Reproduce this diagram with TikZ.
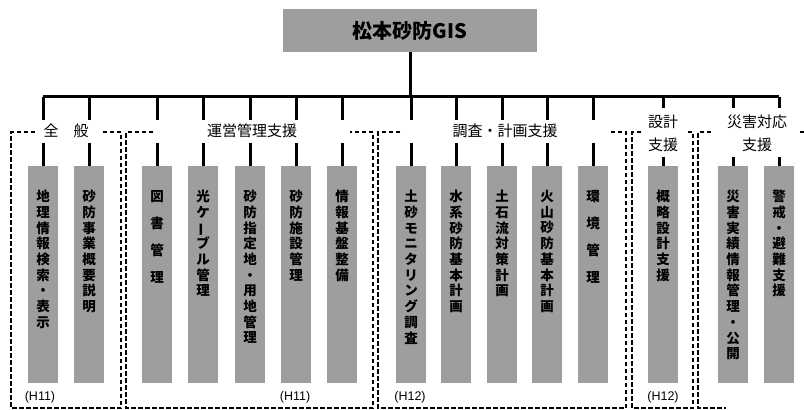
\documentclass[tikz,border=0pt]{standalone}
\usepackage{graphicx}
\usepackage{fontspec}
\newfontfamily\jp{Noto Sans CJK JP}
\newfontfamily\lat{Liberation Sans}
\newcommand{\vbar}{\rotatebox[origin=c]{90}{ー}}
\begin{document}
\begin{tikzpicture}[x=1pt,y=-1pt,
  box/.style={draw=none, fill=black!38, minimum width=30pt, minimum height=217pt, inner sep=0pt, anchor=north},
  topbox/.style={draw=none, fill=black!38, minimum width=254pt, minimum height=43pt, inner sep=0pt, font=\fontsize{20}{22}\jp\bfseries},
  vtext/.style={anchor=north, align=center, inner sep=0pt, font=\fontsize{13.5}{15.7}\jp\bfseries},
  vwide/.style={vtext, font=\fontsize{13.5}{27}\jp\bfseries},
  grp/.style={inner sep=0pt, align=center, font=\fontsize{15}{23}\jp},
  era/.style={inner sep=0pt, font=\fontsize{12.5}{13}\lat},
  conn/.style={line width=3pt},
  frame/.style={line width=1.4pt, dash pattern=on 4.5pt off 2.5pt}
]
\useasboundingbox (0,0) rectangle (804,410);

% top box
\node[topbox] (root) at (410,30.5) {松本砂防GIS};
\coordinate (barL) at (43,96.5);
\coordinate (barR) at (779,96.5);
\coordinate (barM) at (410,96.5);
\draw[conn] (root.south) -- (barM);
\draw[conn] (barL) -- (barR);

% columns
\foreach \i/\x in {1/43,2/89,3/157,4/203,5/250,6/296,7/342,8/411,9/456,10/502,11/547,12/593,13/663,14/733,15/779}{
  \coordinate (b\i) at (\x,96.5);
  \node[box] (box\i) at (\x,166) {};
}
\foreach \i in {1,...,12}{
  \draw[conn] (b\i) -- ++(0,23.5);
  \draw[conn] (box\i.north) -- ++(0,-23);
}
\foreach \i in {13,14,15}{
  \draw[conn] (b\i) -- ++(0,11.5);
  \draw[conn] (box\i.north) -- ++(0,-9);
}

% vertical texts
\node[vtext] (t1) at (43,190) {地\\理\\情\\報\\検\\索\\・\\表\\示};
\node[vtext] (t2) at (89,190) {砂\\防\\事\\業\\概\\要\\説\\明};
\node[vwide] (t3) at (157,190) {図\\書\\管\\理};
\node[vtext] (t4) at (203,190) {光\\ケ\\\vbar\\ブ\\ル\\管\\理};
\node[vtext] (t5) at (250,190) {砂\\防\\指\\定\\地\\・\\用\\地\\管\\理};
\node[vtext] (t6) at (296,190) {砂\\防\\施\\設\\管\\理};
\node[vtext] (t7) at (342,190) {情\\報\\基\\盤\\整\\備};
\node[vtext] (t8) at (411,190) {土\\砂\\モ\\ニ\\タ\\リ\\ン\\グ\\調\\査};
\node[vtext] (t9) at (456,190) {水\\系\\砂\\防\\基\\本\\計\\画};
\node[vtext] (t10) at (502,190) {土\\石\\流\\対\\策\\計\\画};
\node[vtext] (t11) at (547,190) {火\\山\\砂\\防\\基\\本\\計\\画};
\node[vwide] (t12) at (593,190) {環\\境\\管\\理};
\node[vtext] (t13) at (663,190) {概\\略\\設\\計\\支\\援};
\node[vtext] (t14) at (733,190) {災\\害\\実\\績\\情\\報\\管\\理\\・\\公\\開};
\node[vtext] (t15) at (779,190) {警\\戒\\・\\避\\難\\支\\援};

% group labels
\node[grp] (g1) at (66,130.5) {全　般};
\node[grp] (g2) at (252,131) {運営管理支援};
\node[grp] (g3) at (505,131) {調査・計画支援};
\node[grp] (g4) at (663,133.5) {設計\\支援};
\node[grp] (g5) at (757,133.5) {災害対応\\支援};

% dashed frames
\draw[frame] (35,132) -- (11,132) -- (11,408) -- (121,408) -- (121,132) -- (100,132);
\draw[frame] (153,132) -- (126,132) -- (126,408) -- (373,408) -- (373,132) -- (350,132);
\draw[frame] (400,132) -- (378,132) -- (378,408) -- (626,408) -- (626,132) -- (608,132);
\draw[frame] (641,132) -- (632,132) -- (632,408) -- (693,408) -- (693,132) -- (686,132);
\draw[frame] (711,132) -- (698,132) -- (698,408) -- (726,408);
\draw[frame] (800,132) -- (804,132);

% era labels
\node[era] (e1) at (40,397) {(H11)};
\node[era] (e2) at (295,397) {(H11)};
\node[era] (e3) at (410,397) {(H12)};
\node[era] (e4) at (663,397) {(H12)};
\end{tikzpicture}
\end{document}
